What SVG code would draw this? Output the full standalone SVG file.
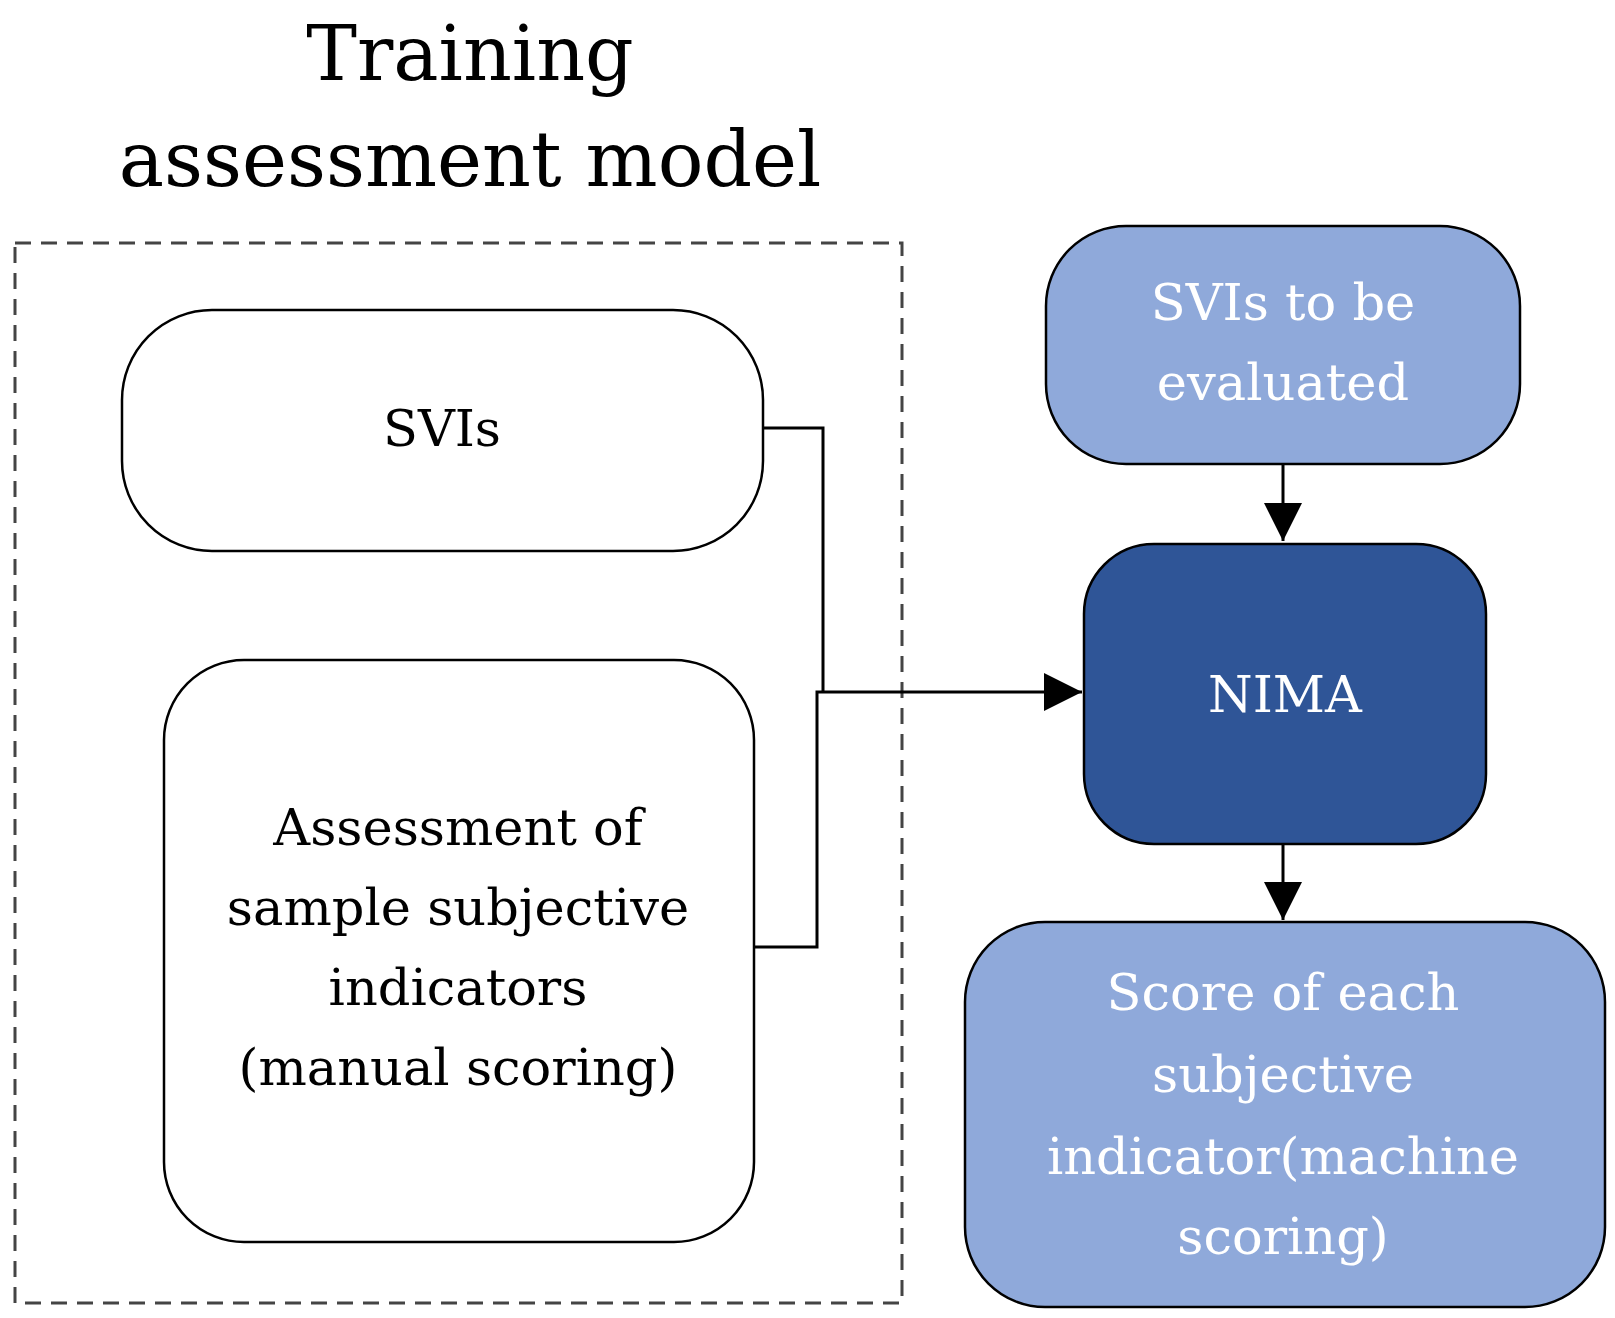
<svg xmlns="http://www.w3.org/2000/svg" width="1615" height="1318" viewBox="0 0 1615 1318">
<style>
text{font-family:"DejaVu Serif","Liberation Serif",serif;text-anchor:middle}
.t{font-size:76px;fill:#000}
.b{font-size:51px;fill:#000}
.w{font-size:51px;fill:#fff}
.box{stroke:#000;stroke-width:2.5}
.ln{fill:none;stroke:#000;stroke-width:3}
</style>
<defs>
<marker id="a" viewBox="0 0 10 10" refX="10" refY="5" markerWidth="38" markerHeight="38" markerUnits="userSpaceOnUse" orient="auto"><path d="M0,0 L10,5 L0,10 z" fill="#000"/></marker></defs>
<rect width="1615" height="1318" fill="#fff"/>
<g id="title"><text class="t" x="470" y="80">Training</text><text class="t" x="470" y="186">assessment model</text></g>
<g id="frame"><rect x="15" y="243" width="887" height="1060" fill="none" stroke="#444" stroke-width="3" stroke-dasharray="16,10"/></g>
<g id="svis"><rect class="box" x="122" y="310" width="641" height="241" rx="90" fill="#fff"/><text class="b" x="442" y="446">SVIs</text></g>
<g id="assess"><rect class="box" x="164" y="660" width="590" height="582" rx="80" fill="#fff"/>
<text class="b" x="458" y="845">Assessment of</text><text class="b" x="458" y="925">sample subjective</text><text class="b" x="458" y="1005">indicators</text><text class="b" x="458" y="1085">(manual scoring)</text></g>
<g id="eval"><rect class="box" x="1046" y="226" width="474" height="238" rx="80" fill="#8FA9DA"/><text class="w" x="1283" y="320">SVIs to be</text><text class="w" x="1283" y="400">evaluated</text></g>
<g id="nima"><rect class="box" x="1084" y="544" width="402" height="300" rx="70" fill="#2F5597"/><text class="w" x="1285" y="712">NIMA</text></g>
<g id="score"><rect class="box" x="965" y="922" width="640" height="385" rx="80" fill="#8FA9DA"/>
<text class="w" x="1283" y="1010">Score of each</text><text class="w" x="1283" y="1092">subjective</text><text class="w" x="1283" y="1174">indicator(machine</text><text class="w" x="1283" y="1254">scoring)</text></g>
<g id="connectors">
<path class="ln" d="M763,428 H823 V692"/>
<path class="ln" d="M754,947 H817 V692 H1082" marker-end="url(#a)"/>
<path class="ln" d="M1283,464 V541" marker-end="url(#a)"/>
<path class="ln" d="M1283,844 V920" marker-end="url(#a)"/>
</g>
</svg>
